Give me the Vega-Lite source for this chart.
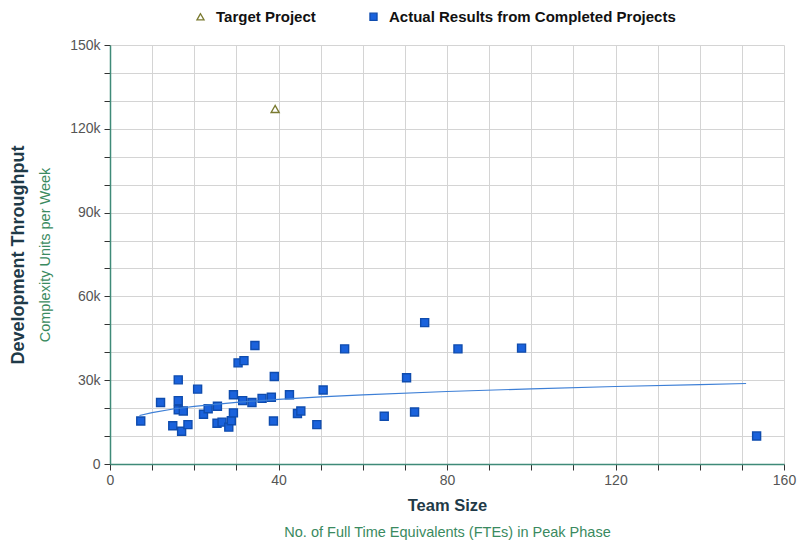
{
  "$schema": "https://vega.github.io/schema/vega-lite/v6.json",
  "width": 674,
  "height": 419,
  "autosize": {"type": "none"},
  "padding": {"left": 110, "top": 45, "right": 13, "bottom": 77},
  "background": "white",
  "config": {
    "font": "Liberation Sans",
    "view": {"stroke": null}
  },
  "layer": [
    {
      "data": {
        "values": [
          {"team": 39.2, "throughput": 127100, "series": "Target Project"},
          {"team": 7.3, "throughput": 15400, "series": "Actual Results from Completed Projects"},
          {"team": 12.0, "throughput": 22000, "series": "Actual Results from Completed Projects"},
          {"team": 16.2, "throughput": 30100, "series": "Actual Results from Completed Projects"},
          {"team": 16.2, "throughput": 22700, "series": "Actual Results from Completed Projects"},
          {"team": 16.2, "throughput": 19400, "series": "Actual Results from Completed Projects"},
          {"team": 17.4, "throughput": 19000, "series": "Actual Results from Completed Projects"},
          {"team": 14.9, "throughput": 13700, "series": "Actual Results from Completed Projects"},
          {"team": 17.0, "throughput": 11700, "series": "Actual Results from Completed Projects"},
          {"team": 18.5, "throughput": 14100, "series": "Actual Results from Completed Projects"},
          {"team": 20.8, "throughput": 26800, "series": "Actual Results from Completed Projects"},
          {"team": 22.2, "throughput": 17800, "series": "Actual Results from Completed Projects"},
          {"team": 23.3, "throughput": 19800, "series": "Actual Results from Completed Projects"},
          {"team": 25.5, "throughput": 20700, "series": "Actual Results from Completed Projects"},
          {"team": 25.4, "throughput": 14600, "series": "Actual Results from Completed Projects"},
          {"team": 26.6, "throughput": 15000, "series": "Actual Results from Completed Projects"},
          {"team": 28.2, "throughput": 13200, "series": "Actual Results from Completed Projects"},
          {"team": 28.8, "throughput": 15500, "series": "Actual Results from Completed Projects"},
          {"team": 29.3, "throughput": 18300, "series": "Actual Results from Completed Projects"},
          {"team": 29.3, "throughput": 24800, "series": "Actual Results from Completed Projects"},
          {"team": 30.4, "throughput": 36200, "series": "Actual Results from Completed Projects"},
          {"team": 31.8, "throughput": 37000, "series": "Actual Results from Completed Projects"},
          {"team": 31.5, "throughput": 22700, "series": "Actual Results from Completed Projects"},
          {"team": 33.7, "throughput": 22000, "series": "Actual Results from Completed Projects"},
          {"team": 34.4, "throughput": 42400, "series": "Actual Results from Completed Projects"},
          {"team": 36.1, "throughput": 23500, "series": "Actual Results from Completed Projects"},
          {"team": 38.3, "throughput": 23900, "series": "Actual Results from Completed Projects"},
          {"team": 39.0, "throughput": 31300, "series": "Actual Results from Completed Projects"},
          {"team": 38.8, "throughput": 15400, "series": "Actual Results from Completed Projects"},
          {"team": 42.6, "throughput": 24800, "series": "Actual Results from Completed Projects"},
          {"team": 44.5, "throughput": 18100, "series": "Actual Results from Completed Projects"},
          {"team": 45.3, "throughput": 19000, "series": "Actual Results from Completed Projects"},
          {"team": 49.1, "throughput": 14100, "series": "Actual Results from Completed Projects"},
          {"team": 50.6, "throughput": 26500, "series": "Actual Results from Completed Projects"},
          {"team": 55.7, "throughput": 41200, "series": "Actual Results from Completed Projects"},
          {"team": 65.1, "throughput": 17100, "series": "Actual Results from Completed Projects"},
          {"team": 70.4, "throughput": 30900, "series": "Actual Results from Completed Projects"},
          {"team": 72.3, "throughput": 18600, "series": "Actual Results from Completed Projects"},
          {"team": 74.7, "throughput": 50600, "series": "Actual Results from Completed Projects"},
          {"team": 82.6, "throughput": 41200, "series": "Actual Results from Completed Projects"},
          {"team": 97.7, "throughput": 41500, "series": "Actual Results from Completed Projects"},
          {"team": 153.5, "throughput": 10000, "series": "Actual Results from Completed Projects"}
        ]
      },
      "mark": {"type": "point", "filled": true, "strokeWidth": 1.4, "opacity": 1, "size": 64},
      "encoding": {
        "x": {
          "field": "team", "type": "quantitative",
          "scale": {"domain": [0, 160], "nice": false, "zero": true},
          "axis": {
            "values": [0,10,20,30,40,50,60,70,80,90,100,110,120,130,140,150,160],
            "labelExpr": "datum.value % 40 === 0 ? datum.label : ''",
            "grid": true, "gridColor": "#d4d4d4", "gridWidth": 1,
            "domainColor": "#3f8a78", "domainWidth": 1.5,
            "tickColor": "#333333", "tickSize": 6, "tickWidth": 1,
            "labelColor": "#555555", "labelFontSize": 14, "labelPadding": 3,
            "labelFlush": false,
            "title": "Team Size", "titleFontSize": 16.5, "titleFontWeight": "bold",
            "titleColor": "#1f3a48", "titlePadding": 10
          }
        },
        "y": {
          "field": "throughput", "type": "quantitative",
          "scale": {"domain": [0, 150000], "nice": false},
          "axis": {
            "values": [0,10000,20000,30000,40000,50000,60000,70000,80000,90000,100000,110000,120000,130000,140000,150000],
            "labelExpr": "datum.value % 30000 === 0 ? (datum.value === 0 ? '0' : (datum.value / 1000) + 'k') : ''",
            "grid": true, "gridColor": "#d4d4d4", "gridWidth": 1,
            "domainColor": "#3f8a78", "domainWidth": 1.5,
            "tickColor": "#333333", "tickSize": 6, "tickWidth": 1,
            "labelColor": "#555555", "labelFontSize": 14, "labelPadding": 4,
            "title": "Development Throughput", "titleFontSize": 18, "titleFontWeight": "bold",
            "titleColor": "#1f3a48", "titlePadding": 42
          }
        },
        "shape": {
          "field": "series", "type": "nominal",
          "scale": {"domain": ["Target Project", "Actual Results from Completed Projects"], "range": ["triangle-up", "square"]},
          "legend": {
            "title": null, "orient": "none", "direction": "horizontal",
            "legendX": 83, "legendY": -36,
            "labelFontSize": 15, "labelFontWeight": "bold", "labelColor": "#111111",
            "symbolSize": 50, "symbolStrokeWidth": 1.3, "columnPadding": 50, "labelOffset": 8, "labelLimit": 400
          }
        },
        "fill": {
          "field": "series", "type": "nominal",
          "scale": {"domain": ["Target Project", "Actual Results from Completed Projects"], "range": ["transparent", "#1a62dc"]}
        },
        "stroke": {
          "field": "series", "type": "nominal",
          "scale": {"domain": ["Target Project", "Actual Results from Completed Projects"], "range": ["#7a7a30", "#0f4cae"]}
        }
      }
    },
    {
      "data": {
        "values": [
          {"team": 7, "throughput": 17360},
          {"team": 10, "throughput": 18410},
          {"team": 15, "throughput": 19690},
          {"team": 20, "throughput": 20640},
          {"team": 30, "throughput": 22070},
          {"team": 40, "throughput": 23150},
          {"team": 50, "throughput": 24000},
          {"team": 60, "throughput": 24750},
          {"team": 80, "throughput": 25950},
          {"team": 100, "throughput": 26920},
          {"team": 120, "throughput": 27750},
          {"team": 140, "throughput": 28450},
          {"team": 151, "throughput": 28820}
        ]
      },
      "mark": {"type": "line", "color": "#3d7fd6", "strokeWidth": 1.2},
      "encoding": {
        "x": {
          "field": "team", "type": "quantitative",
          "axis": {
            "orient": "bottom", "labels": false, "ticks": false, "domain": false, "grid": false,
            "title": "No. of Full Time Equivalents (FTEs) in Peak Phase",
            "titleFontSize": 14.5, "titleFontWeight": "normal", "titleColor": "#3a8a60",
            "titlePadding": 61
          }
        },
        "y": {
          "field": "throughput", "type": "quantitative",
          "axis": {
            "orient": "left", "labels": false, "ticks": false, "domain": false, "grid": false,
            "title": "Complexity Units per Week",
            "titleFontSize": 14.5, "titleFontWeight": "normal", "titleColor": "#3a8a60",
            "titlePadding": 58
          }
        }
      }
    }
  ],
  "resolve": {"axis": {"x": "independent", "y": "independent"}}
}
